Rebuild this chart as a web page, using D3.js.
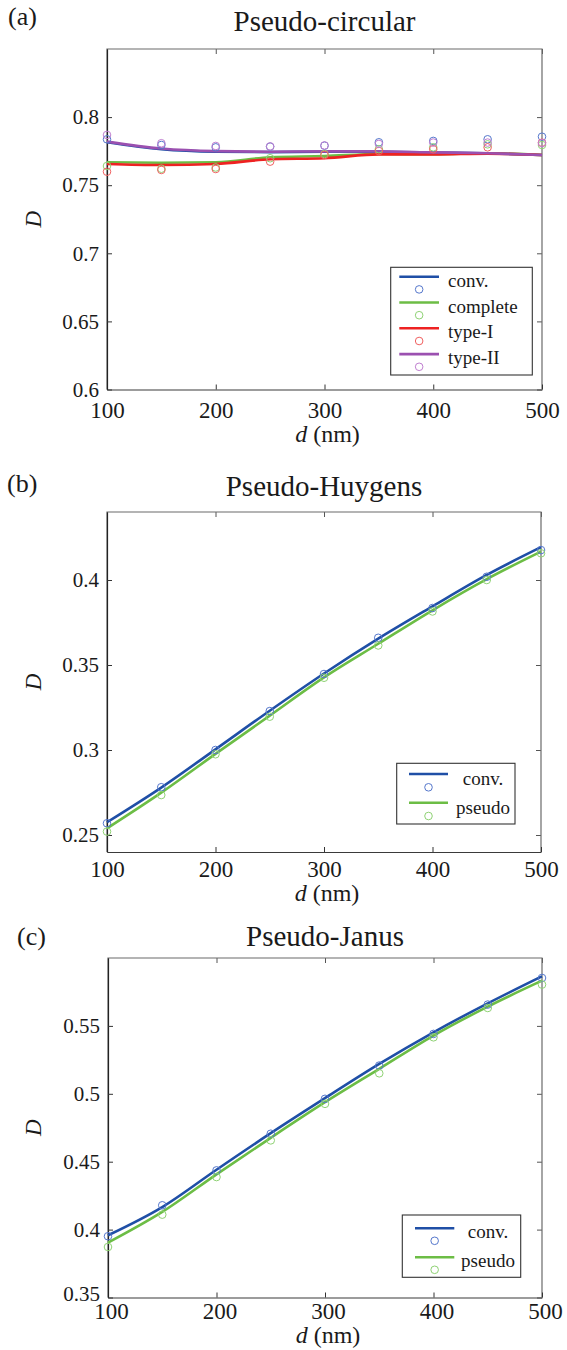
<!DOCTYPE html>
<meta charset="utf-8">
<script src="https://d3js.org/d3.v7.min.js"></script>
<style>
body { margin: 0; background: #fff; }
</style>
<body>
<div id="chart"></div>
<script>
// d (nm) sample points, shared by all panels
var dNm = [100, 150, 200, 250, 300, 350, 400, 450, 500];
var xTicks = [100, 200, 300, 400, 500];

// (a) Pseudo-circular
var aYTicks = [0.6, 0.65, 0.7, 0.75, 0.8];
var aConvLine  = [0.7815, 0.7764, 0.7746, 0.7743, 0.7746, 0.7746, 0.7739, 0.7734, 0.7722];
var aConvPts   = [0.7837, 0.7795, 0.7778, 0.7783, 0.7790, 0.7815, 0.7825, 0.7837, 0.7856];
var aCompLine  = [0.7668, 0.7665, 0.7668, 0.7705, 0.7714, 0.7729, 0.7728, 0.7734, 0.7722];
var aCompPts   = [0.7641, 0.7621, 0.7630, 0.7698, 0.7729, 0.7764, 0.7778, 0.7800, 0.7795];
var aType1Line = [0.7656, 0.7648, 0.7656, 0.7690, 0.7698, 0.7726, 0.7726, 0.7732, 0.7722];
var aType1Pts  = [0.7599, 0.7612, 0.7619, 0.7673, 0.7722, 0.7751, 0.7764, 0.7778, 0.7812];
var aType2Line = [0.7820, 0.7769, 0.7750, 0.7746, 0.7748, 0.7748, 0.7741, 0.7735, 0.7722];
var aType2Pts  = [0.7869, 0.7808, 0.7788, 0.7785, 0.7792, 0.7803, 0.7813, 0.7813, 0.7810];

// (b) Pseudo-Huygens
var bYTicks = [0.25, 0.3, 0.35, 0.4];
var bConvLine   = [0.2575, 0.2779, 0.3004, 0.3231, 0.3450, 0.3655, 0.3845, 0.4030, 0.4193];
var bConvPts    = [0.2569, 0.2781, 0.3000, 0.3229, 0.3447, 0.3660, 0.3835, 0.4019, 0.4176];
var bPseudoLine = [0.2539, 0.2749, 0.2977, 0.3202, 0.3427, 0.3625, 0.3822, 0.4005, 0.4167];
var bPseudoPts  = [0.2520, 0.2735, 0.2975, 0.3196, 0.3425, 0.3615, 0.3815, 0.4000, 0.4157];

// (c) Pseudo-Janus
var cYTicks = [0.35, 0.4, 0.45, 0.5, 0.55];
var cConvLine   = [0.3958, 0.4166, 0.4441, 0.4710, 0.4968, 0.5220, 0.5453, 0.5666, 0.5865];
var cConvPts    = [0.3951, 0.4179, 0.4436, 0.4706, 0.4963, 0.5208, 0.5441, 0.5657, 0.5853];
var cPseudoLine = [0.3904, 0.4130, 0.4407, 0.4676, 0.4938, 0.5184, 0.5429, 0.5642, 0.5833];
var cPseudoPts  = [0.3872, 0.4110, 0.4387, 0.4657, 0.4926, 0.5151, 0.5416, 0.5632, 0.5804];

var col = {
  conv:  {line: "#1f4fa6", pt: "#5577cc"},
  green: {line: "#6cbd45", pt: "#8fd274"},
  red:   {line: "#ee2222", pt: "#f06060"},
  purple:{line: "#9b50b0", pt: "#c07fd0"}
};

var FONT = "'Liberation Serif', 'Times New Roman', Times, 'DejaVu Serif', serif";

var svg = d3.select("#chart").append("svg")
  .attr("width", 567).attr("height", 1350)
  .style("font-family", FONT);

function txt(g) {
  return g.append("text").style("font-family", FONT).attr("fill", "#1a1a1a");
}

function drawPanel(p) {
  var x = d3.scaleLinear().domain([100, 500]).range([p.left, p.right]);
  var y = d3.scaleLinear().domain(p.yDomain).range([p.bottom, p.top]);
  var g = svg.append("g");

  // mirrored axes (top/right) without labels
  g.append("g").attr("transform", "translate(0," + p.top + ")")
    .call(d3.axisTop(x).tickValues(xTicks).tickSize(-5).tickFormat(""))
    .call(s => s.select(".domain").remove())
    .selectAll("line").attr("stroke", "#555");
  g.append("g").attr("transform", "translate(" + p.right + ",0)")
    .call(d3.axisRight(y).tickValues(p.yTicks).tickSize(-5).tickFormat(""))
    .call(s => s.select(".domain").remove())
    .selectAll("line").attr("stroke", "#555");

  // box
  g.append("path")
    .attr("d", "M" + p.left + "," + p.bottom + "V" + p.top + "H" + p.right + "V" + p.bottom)
    .attr("fill", "none").attr("stroke", "#6b6b6b").attr("stroke-width", 1.2);

  var xa = g.append("g").attr("transform", "translate(0," + p.bottom + ")")
    .call(d3.axisBottom(x).tickValues(xTicks).tickSize(-5).tickSizeOuter(0)
      .tickPadding(p.xPad).tickFormat(d3.format("d")));
  xa.attr("font-family", FONT).attr("font-size", 23);
  xa.selectAll("text").style("font-family", FONT).attr("fill", "#1a1a1a").attr("dx", p.xDx || 0);
  xa.select(".domain").attr("stroke", "#3a3a3a").attr("stroke-width", 1.2);
  xa.selectAll("line").attr("stroke", "#333");

  var ya = g.append("g").attr("transform", "translate(" + p.left + ",0)")
    .call(d3.axisLeft(y).tickValues(p.yTicks).tickSize(-5).tickSizeOuter(0)
      .tickPadding(8).tickFormat(d => String(d)));
  ya.attr("font-family", FONT).attr("font-size", 21);
  ya.selectAll("text").style("font-family", FONT).attr("fill", "#1a1a1a");
  ya.select(".domain").attr("stroke", "#222").attr("stroke-width", 1.2);
  ya.selectAll("line").attr("stroke", "#333");
  // lowest label sits on the corner next to the first x label
  if (p.lowLift) {
    ya.selectAll("text").filter(d => d === p.yTicks[0]).attr("dy", (0.32 - p.lowLift) + "em");
  }

  // labels
  txt(g).attr("x", (p.left + p.right) / 2).attr("y", p.titleY)
    .attr("text-anchor", "middle").attr("font-size", 29).text(p.title);
  txt(g).attr("x", p.tagX).attr("y", p.tagY)
    .attr("font-size", 26).text(p.tag);
  var xl = txt(g).attr("x", (p.left + p.right) / 2 + 3).attr("y", p.xLabelY)
    .attr("text-anchor", "middle").attr("font-size", 24);
  xl.append("tspan").attr("font-style", "italic").text("d");
  xl.append("tspan").text(" (nm)");
  txt(g).attr("transform", "translate(41," + (p.top + p.bottom) / 2 + ") rotate(-90)")
    .attr("text-anchor", "middle").attr("font-size", 23).attr("font-style", "italic").text("D");

  var line = d3.line().x((d, i) => x(dNm[i])).y(d => y(d)).curve(d3.curveMonotoneX);

  p.series.forEach(function (s) {
    g.append("path").datum(s.line).attr("d", line)
      .attr("fill", "none").attr("stroke", s.c.line).attr("stroke-width", 2.6);
  });
  p.series.forEach(function (s) {
    g.selectAll(null).data(s.pts).enter().append("circle")
      .attr("cx", (d, i) => x(dNm[i])).attr("cy", d => y(d)).attr("r", 3.8)
      .attr("fill", "none").attr("stroke", s.c.pt).attr("stroke-width", 1);
  });

  // legend
  var L = p.legend;
  g.append("rect").attr("x", L.x).attr("y", L.y).attr("width", L.w).attr("height", L.h)
    .attr("fill", "#fff").attr("stroke", "#333").attr("stroke-width", 1.1);
  p.series.forEach(function (s, i) {
    var ly = L.first + i * L.step;
    g.append("line").attr("x1", L.lx1).attr("x2", L.lx2).attr("y1", ly).attr("y2", ly)
      .attr("stroke", s.c.line).attr("stroke-width", 2.6);
    g.append("circle").attr("cx", (L.lx1 + L.lx2) / 2).attr("cy", ly + L.cOff).attr("r", 3.8)
      .attr("fill", "none").attr("stroke", s.c.pt).attr("stroke-width", 1);
    txt(g).attr("x", L.tx).attr("y", ly + L.tOff)
      .attr("text-anchor", L.anchor).attr("font-size", 19).text(s.name);
  });
}

drawPanel({
  left: 107, right: 542, top: 49, bottom: 389.5, yDomain: [0.6, 0.85], yTicks: aYTicks,
  xPad: 12.5, title: "Pseudo-circular", titleY: 31, tag: "(a)", tagX: 8, tagY: 25, xLabelY: 442,
  series: [
    {name: "conv.", line: aConvLine, pts: aConvPts, c: col.conv},
    {name: "complete", line: aCompLine, pts: aCompPts, c: col.green},
    {name: "type-I", line: aType1Line, pts: aType1Pts, c: col.red},
    {name: "type-II", line: aType2Line, pts: aType2Pts, c: col.purple}
  ],
  legend: {x: 390.7, y: 267.3, w: 141.6, h: 107.7, first: 276.7, step: 25.8,
           lx1: 399.3, lx2: 439, cOff: 12.7, tx: 448, tOff: 10, anchor: "start"}
});

drawPanel({
  left: 107, right: 541, top: 512, bottom: 852, yDomain: [0.24, 0.44], yTicks: bYTicks,
  xPad: 8.5, title: "Pseudo-Huygens", titleY: 496, tag: "(b)", tagX: 7, tagY: 492, xLabelY: 901,
  series: [
    {name: "conv.", line: bConvLine, pts: bConvPts, c: col.conv},
    {name: "pseudo", line: bPseudoLine, pts: bPseudoPts, c: col.green}
  ],
  legend: {x: 396.7, y: 763.3, w: 118.3, h: 60.7, first: 774, step: 28.7,
           lx1: 409, lx2: 448, cOff: 13.3, tx: 483, tOff: 11, anchor: "middle"}
});

drawPanel({
  left: 108, right: 542, top: 958, bottom: 1297.5, yDomain: [0.35, 0.6], yTicks: cYTicks,
  xPad: 5, xDx: 3, lowLift: 0.18, title: "Pseudo-Janus", titleY: 946, tag: "(c)", tagX: 17, tagY: 945, xLabelY: 1343,
  series: [
    {name: "conv.", line: cConvLine, pts: cConvPts, c: col.conv},
    {name: "pseudo", line: cPseudoLine, pts: cPseudoPts, c: col.green}
  ],
  legend: {x: 402.3, y: 1215, w: 118.4, h: 62.3, first: 1228.3, step: 29,
           lx1: 415, lx2: 454.3, cOff: 12.5, tx: 488, tOff: 9.5, anchor: "middle"}
});
</script>
</body>
